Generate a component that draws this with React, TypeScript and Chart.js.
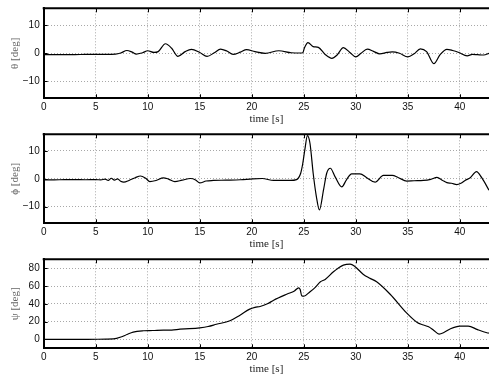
import React, { useEffect, useRef } from 'react';
import { Chart, registerables } from 'chart.js';

Chart.register(...registerables);

// ---- data ----
const X_TICKS = [0, 5, 10, 15, 20, 25, 30, 35, 40];
const X_MIN = 0;
const X_MAX = 42.8;

const THETA_T = [0, 1, 2, 3, 4, 5, 6, 6.9, 7.4, 8.0, 8.5, 8.9, 9.5, 10.0, 10.6, 11.0, 11.7, 12.3, 12.9, 13.6, 14.2, 15.0, 15.7, 16.4, 17.0, 17.6, 18.2, 18.9, 19.5, 20.3, 21.3, 22.6, 23.8, 24.7, 24.9, 25.05, 25.4, 25.9, 26.4, 27.05, 27.7, 28.2, 28.8, 29.4, 30.0, 30.5, 31.1, 31.7, 32.3, 33.0, 33.5, 34.2, 35.0, 35.6, 36.2, 36.8, 37.5, 38.1, 38.75, 39.3, 39.9, 40.7, 41.2, 41.7, 42.3, 42.8];
const THETA = [-0.5, -0.5, -0.45, -0.45, -0.4, -0.4, -0.4, -0.3, 0.1, 1.0, 0.4, -0.3, 0.2, 0.9, 0.3, 0.6, 3.4, 1.8, -1.1, 0.6, 1.4, 0.3, -1.1, 0.2, 1.5, 0.8, -0.4, 0.4, 1.3, 0.6, 0.0, 0.9, 0.2, 0.1, 0.2, 1.8, 3.8, 2.4, 2.1, -0.4, -1.8, -0.6, 2.0, 0.4, -1.3, 0.0, 1.5, 0.7, -0.2, 0.3, 0.5, 0.0, -1.3, -0.2, 1.6, 0.6, -3.7, -0.5, 1.4, 1.0, 0.3, -0.9, -0.4, -0.5, -0.6, 0.0];

const PHI_T = [0, 1, 2, 3, 4, 5, 5.5, 5.9, 6.2, 6.5, 6.8, 7.1, 7.4, 7.7, 8.2, 8.8, 9.3, 9.8, 10.2, 10.8, 11.5, 12.0, 12.6, 13.3, 14.1, 14.6, 15.0, 15.6, 16.3, 17.5, 18.9, 20.1, 21.0, 22.1, 23.7, 24.3, 24.7, 24.9, 25.1, 25.35, 25.6, 25.9, 26.2, 26.5, 26.9, 27.2, 27.55, 28.0, 28.65, 29.1, 29.6, 30.4, 31.05, 31.85, 32.65, 33.5, 34.1, 34.9, 35.6, 36.5, 37.2, 37.8, 38.3, 38.75, 39.2, 39.7, 40.1, 40.5, 41.0, 41.6, 42.1, 42.8];
const PHI = [-0.4, -0.4, -0.3, -0.3, -0.35, -0.3, -0.4, -0.1, -0.6, 0.2, -0.5, 0.0, -0.9, -1.2, -0.6, 0.4, 1.0, 0.2, -1.0, -0.6, 0.35, -0.1, -1.0, -0.5, 0.1, -0.4, -1.5, -0.8, -0.6, -0.5, -0.35, 0.0, 0.1, -0.6, -0.6, -0.3, 2.0, 5.5, 10.5, 15.5, 12.6, 2.0, -6.2, -11.2, -3.9, 2.0, 3.8, 0.8, -2.9, -0.35, 1.8, 1.8, 0.4, -1.2, 1.2, 1.2, 0.4, -0.8, -0.7, -0.6, -0.2, 0.5, -0.5, -1.4, -1.6, -2.1, -1.6, -0.6, 0.4, 2.6, 0.4, -4.1];

const PSI_T = [0, 2, 4, 6, 6.7, 7.5, 8.0, 8.6, 9.6, 10.5, 11.5, 12.3, 13.1, 14.0, 15.0, 15.8, 16.6, 17.9, 18.9, 19.8, 20.3, 20.8, 21.5, 22.1, 23.4, 24.1, 24.5, 24.65, 24.8, 25.0, 25.6, 26.1, 26.6, 27.05, 27.85, 28.3, 28.8, 29.45, 29.9, 30.7, 31.3, 32.0, 33.3, 34.9, 35.9, 36.4, 37.0, 37.5, 38.0, 38.5, 39.1, 40.0, 40.8, 41.7, 42.6, 42.8];
const PSI = [0, 0, 0, 0.3, 0.5, 3, 5.5, 8.2, 9.7, 10, 10.5, 10.5, 11.5, 12, 13, 14.5, 17, 21, 27.5, 34, 36, 37, 40, 44, 51, 54.5, 58, 56, 49, 48.5, 53.6, 58.5, 64.7, 67.4, 76, 80, 83.4, 84.5, 82, 73.3, 69, 64.7, 50.7, 29.5, 19, 16.5, 14.2, 10, 6, 8, 12, 15, 15, 11, 7.5, 7];

const THETA_TICKS = [-10, 0, 10];
const PHI_TICKS = [-10, 0, 10];
const PSI_TICKS = [0, 20, 40, 60, 80];

const X_LABEL = 'time [s]';
const THETA_LABEL = 'θ [deg]';
const PHI_LABEL = 'ϕ [deg]';
const PSI_LABEL = 'ψ [deg]';

const W = 489;
const H = 125;

const framePlugin = {
  id: 'frame',
  afterDraw(chart: any) {
    const { ctx, chartArea } = chart;
    const { left, right, top, bottom } = chartArea;
    const xs = chart.scales.x;
    const ys = chart.scales.y;
    ctx.save();
    ctx.strokeStyle = '#000';
    ctx.lineWidth = 2;
    ctx.beginPath();
    ctx.moveTo(left - 1, top);
    ctx.lineTo(right + 1, top);
    ctx.stroke();
    ctx.lineWidth = 1;
    ctx.beginPath();
    xs.ticks.forEach((t: any) => {
      const px = Math.round(xs.getPixelForValue(t.value)) + 0.5;
      ctx.moveTo(px, bottom);
      ctx.lineTo(px, bottom - 4);
      ctx.moveTo(px, top);
      ctx.lineTo(px, top + 4);
    });
    ys.ticks.forEach((t: any) => {
      const py = Math.round(ys.getPixelForValue(t.value)) + 0.5;
      ctx.moveTo(left, py);
      ctx.lineTo(left + 4, py);
    });
    ctx.stroke();
    ctx.restore();
  },
};

function fmt(v: number | string) {
  return String(v).replace('-', '\u2212');
}

function makeChart(
  canvas: HTMLCanvasElement,
  times: number[],
  values: number[],
  yMin: number,
  yMax: number,
  yTicks: number[],
  yLabel: string,
  padTop: number
) {
  const data = times.map((t, i) => ({ x: t, y: values[i] }));
  return new Chart(canvas, {
    type: 'line',
    data: {
      datasets: [
        {
          data,
          borderColor: '#000',
          borderWidth: 1.2,
          pointRadius: 0,
          cubicInterpolationMode: 'monotone',
          fill: false,
        },
      ],
    },
    options: {
      animation: false,
      responsive: false,
      devicePixelRatio: 1,
      layout: { padding: { top: padTop, left: 0, right: 0, bottom: 0 } },
      plugins: { legend: { display: false }, tooltip: { enabled: false } },
      scales: {
        x: {
          type: 'linear',
          min: X_MIN,
          max: X_MAX,
          afterBuildTicks: (s: any) => {
            s.ticks = X_TICKS.map((v) => ({ value: v }));
          },
          afterFit: (s: any) => {
            s.height = 26.7;
            s.paddingLeft = 0;
            s.paddingRight = 0;
          },
          ticks: {
            padding: 3,
            autoSkip: false,
            maxRotation: 0,
            color: '#111',
            font: { family: '"Liberation Sans", Arial, sans-serif', size: 10 },
            callback: (v: any) => fmt(v),
          },
          grid: { color: '#a8a8a8', lineWidth: 1, drawTicks: false },
          border: { display: true, color: '#000', width: 2, dash: [1, 2] },
          title: {
            display: true,
            text: X_LABEL,
            color: '#222',
            font: { family: '"Liberation Serif", "Times New Roman", serif', size: 11, lineHeight: 1 },
            padding: { top: 0, bottom: 0 },
          },
        },
        y: {
          type: 'linear',
          min: yMin,
          max: yMax,
          afterBuildTicks: (s: any) => {
            s.ticks = yTicks.map((v) => ({ value: v }));
          },
          afterFit: (s: any) => {
            s.width = 43.7;
            s.paddingTop = 0;
            s.paddingBottom = 0;
          },
          ticks: {
            padding: 4,
            autoSkip: false,
            color: '#111',
            font: { family: '"Liberation Sans", Arial, sans-serif', size: 10 },
            callback: (v: any) => fmt(v),
          },
          grid: { color: '#a8a8a8', lineWidth: 1, drawTicks: false },
          border: { display: true, color: '#000', width: 2, dash: [1, 2] },
          title: {
            display: true,
            text: yLabel,
            color: '#666',
            font: { family: '"Liberation Serif", "Times New Roman", serif', size: 11, lineHeight: 1 },
            padding: { top: 10, bottom: 0 },
          },
        },
      },
    } as any,
    plugins: [framePlugin],
  });
}

export default function App() {
  const r1 = useRef<HTMLCanvasElement>(null);
  const r2 = useRef<HTMLCanvasElement>(null);
  const r3 = useRef<HTMLCanvasElement>(null);

  useEffect(() => {
    const charts: Chart[] = [];
    if (r1.current) charts.push(makeChart(r1.current, THETA_T, THETA, -16, 16, THETA_TICKS, THETA_LABEL, 8.3));
    if (r2.current) charts.push(makeChart(r2.current, PHI_T, PHI, -16, 16, PHI_TICKS, PHI_LABEL, 9.3));
    if (r3.current) charts.push(makeChart(r3.current, PSI_T, PSI, -10, 90, PSI_TICKS, PSI_LABEL, 9.3));
    return () => charts.forEach((c) => c.destroy());
  }, []);

  const cStyle: React.CSSProperties = { display: 'block', width: W, height: H };
  return (
    <div style={{ position: 'absolute', left: 0, top: 0, width: W, height: 375, overflow: 'hidden', background: '#fff' }}>
      <canvas ref={r1} width={W} height={H} style={cStyle} />
      <canvas ref={r2} width={W} height={H} style={cStyle} />
      <canvas ref={r3} width={W} height={H} style={cStyle} />
    </div>
  );
}
